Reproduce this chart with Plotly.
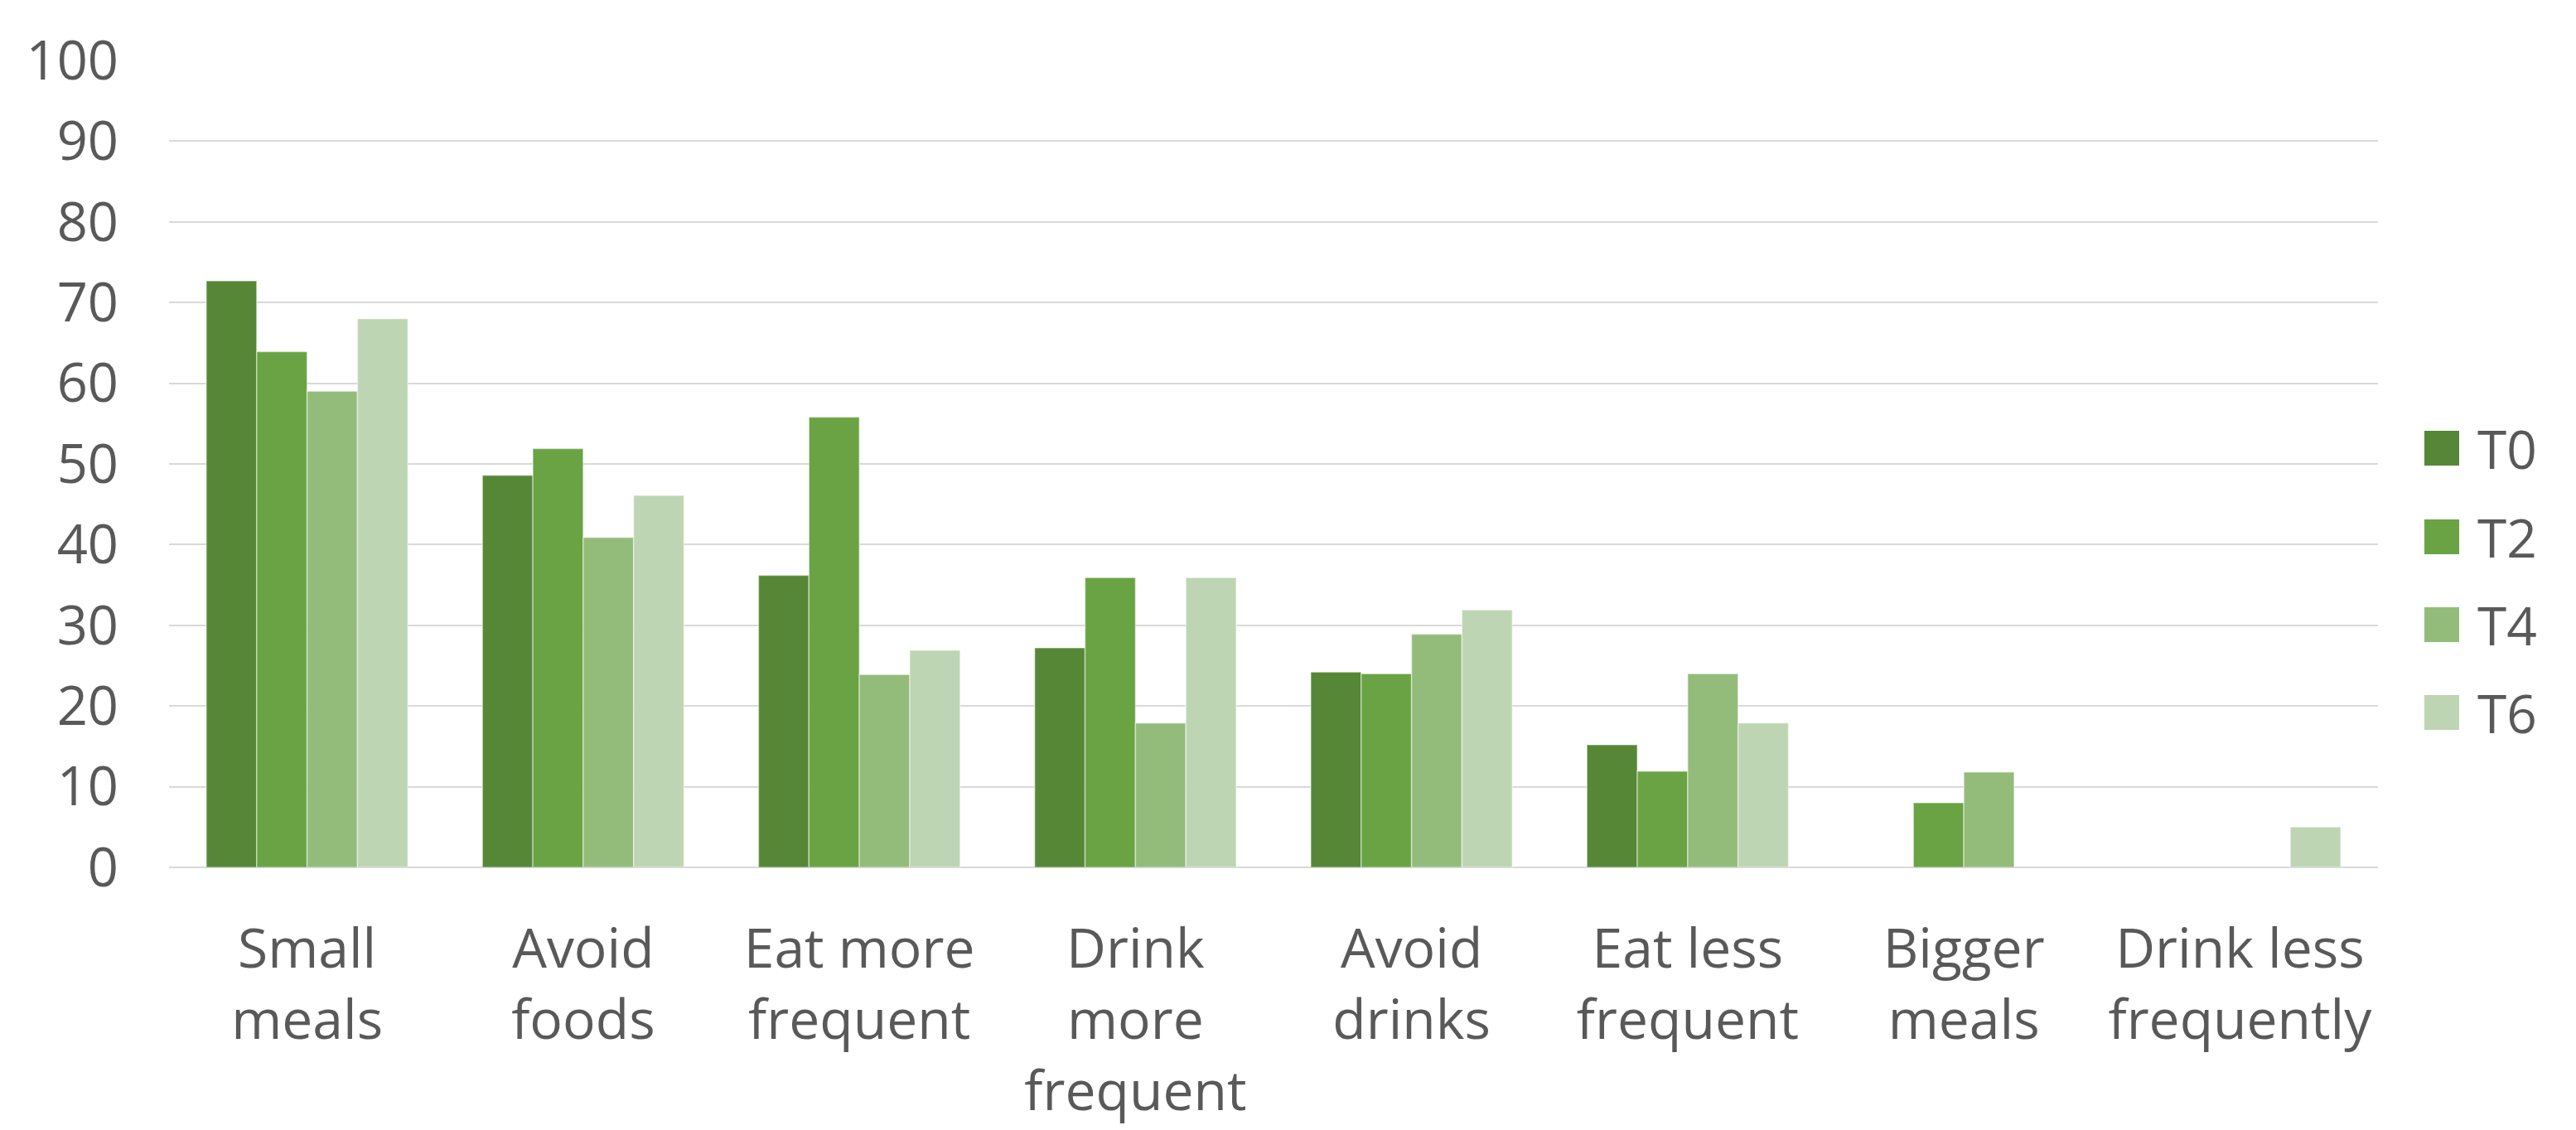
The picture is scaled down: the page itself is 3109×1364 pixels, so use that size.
import plotly.graph_objects as go

categories = ["Small meals", "Avoid foods", "Eat more frequent", "Drink more frequent",
              "Avoid drinks", "Eat less frequent", "Bigger meals", "Drink less frequently"]
tick_labels = ["Small<br>meals", "Avoid<br>foods", "Eat more<br>frequent", "Drink<br>more<br>frequent",
               "Avoid<br>drinks", "Eat less<br>frequent", "Bigger<br>meals", "Drink less<br>frequently"]
series_names = ["T0", "T2", "T4", "T6"]
t0 = [72.7, 48.6, 36.2, 27.2, 24.2, 15.2, None, None]
t2 = [63.9, 51.9, 55.8, 35.9, 24.0, 11.9, 8.0, None]
t4 = [59.0, 40.9, 23.9, 17.9, 28.9, 24.0, 11.8, None]
t6 = [68.0, 46.1, 26.9, 35.9, 31.9, 17.9, None, 5.0]
series_values = [t0, t2, t4, t6]
colors = ["#568737", "#6AA343", "#93BC7B", "#BED5B3"]

W, H = 3109, 1364
ML, MR, MT, MB = 204, 239, 73, 317
FONT = "Open Sans"
TXT = "#595959"

fig = go.Figure()
for name, vals, col in zip(series_names, series_values, colors):
    fig.add_trace(go.Bar(
        x=categories, y=vals, name=name,
        marker=dict(color=col, line=dict(color="rgba(255,255,255,0.45)", width=1.5)),
        showlegend=False,
    ))

# manual legend (large squares like the original)
pw = W - ML - MR
ph = H - MT - MB
sq = 42
leg_x0 = 2926
leg_text_x = 2988
leg_y = [541, 648, 754, 860]
for name, col, yc in zip(series_names, colors, leg_y):
    x0 = (leg_x0 - ML) / pw
    x1 = (leg_x0 + sq - ML) / pw
    y0 = (H - MB - (yc + sq / 2)) / ph
    y1 = (H - MB - (yc - sq / 2)) / ph
    fig.add_shape(type="rect", xref="paper", yref="paper", x0=x0, x1=x1, y0=y0, y1=y1,
                  fillcolor=col, line=dict(width=0))
    fig.add_annotation(xref="paper", yref="paper", x=(leg_text_x - ML) / pw,
                       y=(H - MB - yc) / ph, text=name, showarrow=False,
                       xanchor="left", yanchor="middle",
                       font=dict(family=FONT, size=64, color=TXT))

fig.update_layout(
    width=W, height=H,
    margin=dict(l=ML, r=MR, t=MT, b=MB, pad=0, autoexpand=False),
    paper_bgcolor="white", plot_bgcolor="white",
    barmode="group", bargap=0.27, bargroupgap=0,
    font=dict(family=FONT, size=64, color=TXT),
    showlegend=False,
)
fig.update_yaxes(range=[0, 100], dtick=10, tick0=0, showgrid=True, gridcolor="#D9D9D9",
                 gridwidth=2, zeroline=True, zerolinecolor="#D9D9D9", zerolinewidth=2,
                 showline=False, ticks="", ticklabelstandoff=60, automargin=False,
                 tickfont=dict(family=FONT, size=65, color=TXT))
fig.update_xaxes(tickmode="array", tickvals=categories, ticktext=tick_labels,
                 showgrid=False, showline=False, ticks="", ticklabelstandoff=54,
                 automargin=False,
                 tickfont=dict(family=FONT, size=66, color=TXT))

fig.write_html("out.html")
